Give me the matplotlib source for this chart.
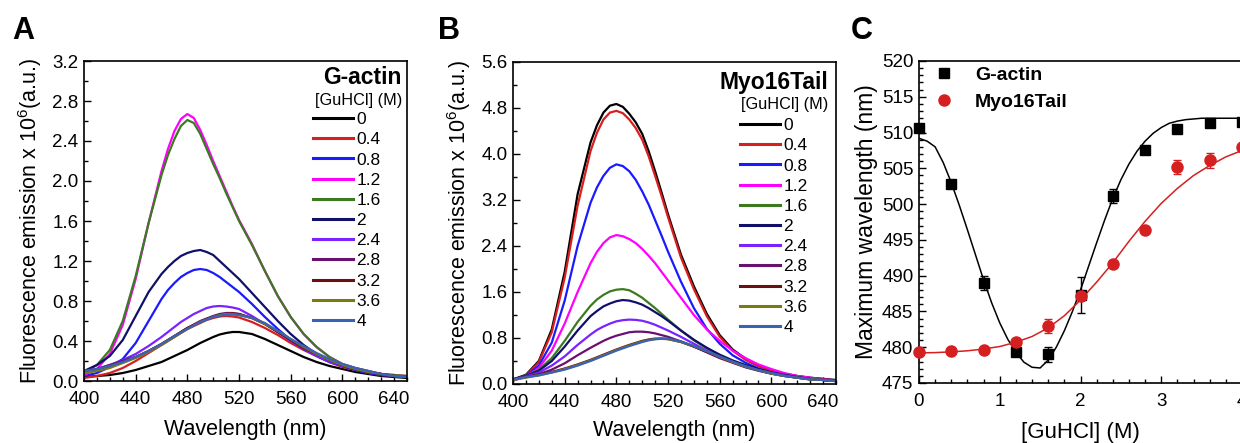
import numpy as np
import matplotlib.pyplot as plt
from matplotlib.ticker import MultipleLocator

plt.rcParams['font.family'] = ['Liberation Sans', 'DejaVu Sans']
plt.rcParams['mathtext.default'] = 'regular'

# ---------------- data ----------------
# wavelengths (finer steps around the peaks)
wavelength = [400, 410, 420, 430, 440, 450, 460,
              465, 470, 475, 480, 485, 490, 495, 500, 505, 510, 515, 520,
              530, 540, 550, 560, 570, 580, 590, 600, 610, 620, 630, 640, 650]
guhcl_labels = ['0', '0.4', '0.8', '1.2', '1.6', '2', '2.4', '2.8', '3.2', '3.6', '4']
line_colors = ['#000000', '#d81e1e', '#1a1aff', '#ff00ff', '#3c7a20', '#10106a',
               '#7a22ff', '#6a106e', '#6a1010', '#7a7a10', '#3a62b4']

# panel A: G-actin emission spectra (x 10^6 a.u.)
ga_00 = [.04, .05, .06, .08, .11, .15, .19,
         .22, .25, .28, .31, .345, .38, .41, .44, .465, .48, .49, .49,
         .47, .42, .36, .30, .24, .19, .15, .12, .09, .07, .05, .04, .03]
ga_04 = [.03, .05, .08, .13, .20, .28, .36,
         .40, .44, .48, .52, .55, .58, .61, .63, .645, .65, .645, .635,
         .59, .53, .46, .38, .31, .25, .19, .14, .11, .08, .06, .05, .04]
ga_08 = [.05, .08, .14, .22, .38, .60, .82,
         .91, .98, 1.04, 1.08, 1.11, 1.12, 1.11, 1.08, 1.04, .99, .94, .89,
         .77, .64, .52, .41, .32, .25, .19, .15, .11, .08, .06, .05, .04]
ga_12 = [.06, .12, .27, .56, 1.02, 1.58, 2.10,
         2.32, 2.50, 2.62, 2.67, 2.63, 2.51, 2.36, 2.20, 2.05, 1.90, 1.75, 1.61,
         1.37, 1.10, .85, .64, .47, .34, .24, .17, .13, .10, .07, .06, .05]
ga_16 = [.08, .16, .31, .60, 1.05, 1.58, 2.06,
         2.26, 2.42, 2.55, 2.61, 2.58, 2.47, 2.32, 2.17, 2.03, 1.88, 1.74, 1.60,
         1.36, 1.10, .85, .64, .47, .34, .24, .17, .13, .10, .07, .06, .05]
ga_20 = [.10, .16, .25, .41, .65, .89, 1.07,
         1.14, 1.20, 1.25, 1.28, 1.30, 1.31, 1.29, 1.26, 1.20, 1.14, 1.08, 1.02,
         .88, .74, .60, .47, .36, .27, .20, .15, .12, .09, .07, .05, .04]
ga_24 = [.10, .12, .16, .21, .27, .35, .44,
         .49, .54, .59, .63, .67, .70, .73, .745, .75, .745, .735, .72,
         .65, .57, .49, .40, .32, .25, .19, .15, .12, .09, .07, .05, .04]
ga_28 = [.09, .12, .16, .20, .24, .30, .37,
         .41, .45, .49, .53, .565, .60, .625, .65, .67, .68, .68, .67,
         .63, .57, .49, .41, .33, .27, .21, .16, .12, .09, .07, .05, .04]
ga_32 = [.09, .11, .14, .19, .24, .30, .37,
         .41, .45, .49, .53, .56, .59, .62, .64, .66, .67, .675, .67,
         .63, .57, .49, .41, .33, .27, .21, .16, .12, .09, .07, .05, .04]
ga_36 = [.08, .10, .13, .18, .23, .29, .36,
         .40, .44, .48, .52, .555, .59, .615, .64, .66, .67, .67, .66,
         .63, .57, .50, .42, .34, .27, .21, .16, .12, .09, .07, .05, .04]
ga_40 = [.10, .12, .15, .19, .24, .30, .37,
         .41, .45, .485, .52, .555, .59, .615, .64, .655, .66, .665, .66,
         .63, .58, .50, .42, .35, .28, .22, .17, .13, .10, .07, .05, .04]

# panel B: Myo16Tail emission spectra (x 10^6 a.u.)
mt_00 = [.08, .16, .40, .95, 1.95, 3.30, 4.20,
         4.50, 4.72, 4.84, 4.87, 4.82, 4.70, 4.55, 4.35, 4.05, 3.70, 3.33, 2.95,
         2.25, 1.70, 1.22, .85, .60, .44, .32, .24, .18, .14, .11, .09, .07]
mt_04 = [.06, .15, .38, .90, 1.85, 3.10, 4.05,
         4.37, 4.60, 4.72, 4.75, 4.71, 4.60, 4.45, 4.25, 3.96, 3.62, 3.27, 2.90,
         2.20, 1.65, 1.18, .82, .58, .42, .31, .23, .17, .13, .10, .08, .06]
mt_08 = [.06, .14, .32, .72, 1.45, 2.40, 3.15,
         3.42, 3.62, 3.76, 3.82, 3.79, 3.70, 3.55, 3.35, 3.12, 2.85, 2.58, 2.30,
         1.78, 1.32, .96, .70, .50, .37, .27, .20, .15, .12, .09, .07, .06]
mt_12 = [.06, .13, .28, .58, 1.05, 1.60, 2.10,
         2.30, 2.45, 2.55, 2.59, 2.57, 2.52, 2.45, 2.35, 2.23, 2.10, 1.95, 1.80,
         1.50, 1.20, .95, .75, .58, .45, .34, .26, .19, .14, .11, .08, .06]
mt_16 = [.08, .14, .25, .45, .75, 1.08, 1.36,
         1.47, 1.55, 1.61, 1.64, 1.65, 1.63, 1.57, 1.50, 1.41, 1.32, 1.22, 1.12,
         .93, .76, .62, .50, .40, .32, .25, .19, .15, .12, .09, .07, .06]
mt_20 = [.08, .14, .23, .40, .65, .93, 1.18,
         1.27, 1.35, 1.40, 1.44, 1.46, 1.45, 1.42, 1.38, 1.32, 1.25, 1.18, 1.10,
         .93, .77, .63, .51, .41, .33, .26, .20, .16, .12, .09, .07, .06]
mt_24 = [.08, .13, .20, .32, .48, .68, .86,
         .94, 1.00, 1.05, 1.09, 1.11, 1.12, 1.115, 1.10, 1.07, 1.03, .98, .93,
         .82, .70, .58, .47, .38, .30, .24, .19, .15, .11, .09, .07, .05]
mt_28 = [.08, .12, .17, .25, .36, .50, .63,
         .69, .75, .80, .84, .87, .90, .91, .91, .90, .88, .85, .82,
         .74, .65, .55, .45, .37, .29, .23, .18, .14, .11, .08, .07, .05]
mt_32 = [.08, .12, .16, .21, .27, .34, .42,
         .465, .51, .555, .60, .64, .68, .715, .75, .775, .79, .79, .78,
         .73, .65, .56, .47, .38, .30, .24, .18, .14, .11, .08, .07, .05]
mt_36 = [.07, .11, .15, .20, .26, .33, .41,
         .455, .50, .545, .59, .63, .67, .705, .74, .765, .78, .785, .78,
         .73, .66, .57, .47, .38, .30, .24, .18, .14, .11, .08, .07, .05]
mt_40 = [.08, .12, .15, .20, .25, .32, .40,
         .445, .49, .535, .58, .62, .66, .695, .73, .76, .78, .79, .79,
         .74, .66, .57, .48, .39, .31, .24, .19, .14, .11, .08, .07, .05]

# panel C: maximum emission wavelength vs [GuHCl]
guhcl = [0, 0.4, 0.8, 1.2, 1.6, 2.0, 2.4, 2.8, 3.2, 3.6, 4.0]
gactin_max = [510.7, 502.8, 489.0, 479.3, 479.0, 487.3, 501.1, 507.5, 510.5, 511.4, 511.5]
gactin_err = [0.3, 0.3, 1.0, 0.3, 1.0, 2.5, 1.0, 0.5, 0.5, 0.3, 0.3]
myo_max = [479.3, 479.5, 479.6, 480.7, 483.0, 487.2, 491.6, 496.4, 505.2, 506.1, 508.0]
myo_err = [0.3, 0.3, 0.3, 0.3, 1.0, 0.5, 0.4, 0.4, 1.0, 1.0, 0.5]

gactin_fit_x = [0.0, 0.1, 0.2, 0.3, 0.4, 0.5, 0.6, 0.7, 0.8, 0.9, 1.0, 1.1, 1.2, 1.3,
                1.4, 1.5, 1.6, 1.7, 1.8, 1.9, 2.0, 2.1, 2.2, 2.3, 2.4, 2.5, 2.6, 2.7,
                2.8, 2.9, 3.0, 3.1, 3.2, 3.3, 3.4, 3.5, 3.6, 3.8, 4.0]
gactin_fit_y = [509.2, 508.8, 508.0, 505.8, 503.0, 499.8, 496.4, 492.9, 489.4, 486.2,
                483.4, 481.1, 479.3, 477.9, 477.2, 477.1, 478.2, 480.0, 482.3, 485.0,
                488.0, 491.3, 494.6, 497.8, 500.8, 503.4, 505.6, 507.4, 508.8, 509.9,
                510.7, 511.3, 511.6, 511.8, 511.9, 512.0, 512.0, 512.0, 512.0]
myo_fit_x = [0.0, 0.2, 0.4, 0.6, 0.8, 1.0, 1.2, 1.4, 1.6, 1.8, 2.0, 2.2, 2.4, 2.6,
             2.8, 3.0, 3.2, 3.4, 3.6, 3.8, 4.0]
myo_fit_y = [479.2, 479.25, 479.35, 479.5, 479.75, 480.1, 480.7, 481.5, 482.7, 484.4,
             486.6, 489.1, 491.8, 494.8, 497.6, 500.1, 502.2, 504.0, 505.4, 506.6, 507.5]

spectra_a = [ga_00, ga_04, ga_08, ga_12, ga_16, ga_20, ga_24, ga_28, ga_32, ga_36, ga_40]
spectra_b = [mt_00, mt_04, mt_08, mt_12, mt_16, mt_20, mt_24, mt_28, mt_32, mt_36, mt_40]

# ---------------- figure ----------------
W, H = 1240, 443
fig = plt.figure(figsize=(W / 100, H / 100), dpi=100)


def px_axes(left, top, right, bottom):
    return fig.add_axes([left / W, 1 - bottom / H, (right - left) / W, (bottom - top) / H])


def style_axes(ax):
    ax.tick_params(which='both', direction='in', top=False, right=False, labelsize=13.5,
                   width=1)
    ax.tick_params(axis='y', pad=4)
    ax.tick_params(axis='x', pad=7)
    ax.tick_params(which='major', length=5)
    ax.tick_params(which='minor', length=3)
    for s in ax.spines.values():
        s.set_linewidth(1.2)


def spectra_panel(ax, spectra, ymax, ystep, name, legend_xy, title_xy, xlabelpad):
    for vals, c, lab in zip(spectra, line_colors, guhcl_labels):
        ax.plot(wavelength, vals, color=c, lw=1.6, label=lab)
    ax.set_xlim(400, 650)
    ax.set_ylim(0, ymax)
    ax.xaxis.set_major_locator(MultipleLocator(40))
    ax.xaxis.set_minor_locator(MultipleLocator(10))
    ax.yaxis.set_major_locator(MultipleLocator(ystep))
    ax.yaxis.set_minor_locator(MultipleLocator(ystep / 2))
    ax.yaxis.set_major_formatter(plt.FormatStrFormatter('%.1f'))
    style_axes(ax)
    ax.set_xlabel('Wavelength (nm)', fontsize=15.5, labelpad=xlabelpad)
    ax.set_ylabel('Fluorescence emission x 10$^{6}$(a.u.)', fontsize=15.5, labelpad=6)
    fig.text(title_xy[0] / W, 1 - title_xy[1] / H, name, fontsize=16.5,
             fontweight='bold', ha='right', va='center')
    fig.text(title_xy[0] / W, 1 - (title_xy[1] + 23) / H, '[GuHCl] (M)', fontsize=11.7,
             ha='right', va='center')
    leg = ax.legend(loc='upper left', bbox_to_anchor=(legend_xy[0] / W, 1 - legend_xy[1] / H),
                    bbox_transform=fig.transFigure, frameon=False, fontsize=12.5,
                    handlelength=2.3, handletextpad=0.2, labelspacing=0.29,
                    borderpad=0, borderaxespad=0)
    for h in leg.get_lines():
        h.set_linewidth(2.2)


# A
axA = px_axes(84, 61, 407, 381)
spectra_panel(axA, spectra_a, 3.2, 0.4, 'G-actin', (313, 112), (402, 77), 8)

# B
axB = px_axes(513, 62, 836, 384)
spectra_panel(axB, spectra_b, 5.6, 0.8, 'Myo16Tail', (740, 118), (828, 82), 7)

# C
axC = px_axes(919, 61, 1242, 383)
axC.plot(gactin_fit_x, gactin_fit_y, color='black', lw=1.1)
axC.plot(myo_fit_x, myo_fit_y, color='#d42020', lw=1.1)
axC.errorbar(guhcl, gactin_max, yerr=gactin_err, fmt='s', color='black', ms=7,
             capsize=3, elinewidth=1, label='G-actin', clip_on=False, zorder=4)
axC.errorbar(guhcl, myo_max, yerr=myo_err, fmt='o', color='#d42020', ms=8,
             capsize=3, elinewidth=1, label='Myo16Tail', clip_on=False, zorder=4)
axC.set_xlim(0, 4)
axC.set_ylim(475, 520)
axC.xaxis.set_major_locator(MultipleLocator(1))
axC.xaxis.set_minor_locator(MultipleLocator(0.2))
axC.yaxis.set_major_locator(MultipleLocator(5))
axC.yaxis.set_minor_locator(MultipleLocator(1))
style_axes(axC)
axC.set_xlabel('[GuHCl] (M)', fontsize=16, labelpad=9)
axC.set_ylabel('Maximum wavelength (nm)', fontsize=16.5, labelpad=3)
handles, labels = axC.get_legend_handles_labels()
handles = [h[0] for h in handles]
axC.legend(handles, labels, loc='upper left', bbox_to_anchor=(932 / W, 1 - 66 / H),
           bbox_transform=fig.transFigure, frameon=False,
           prop={'weight': 'bold', 'size': 14}, handlelength=1.2, handletextpad=1.0,
           labelspacing=0.5, borderpad=0, borderaxespad=0)

# panel letters
for letter, x in [('A', 12), ('B', 438), ('C', 851)]:
    fig.text(x / W, 1 - 39 / H, letter, fontsize=22, fontweight='bold', va='baseline')

fig.savefig('out.png', dpi=100)
